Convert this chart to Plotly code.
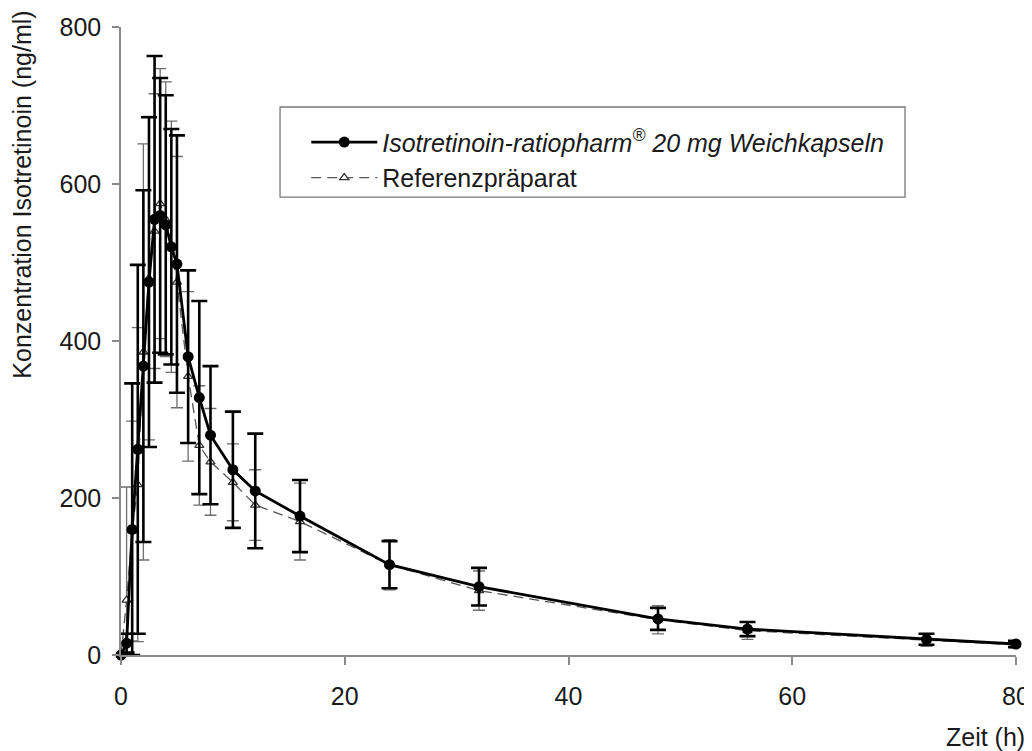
import plotly.graph_objects as go

# ---- data ----
time_h = [0, 0.5, 1, 1.5, 2, 2.5, 3, 3.5, 4, 4.5, 5, 6, 7, 8, 10, 12, 16, 24, 32, 48, 56, 72, 80]
test_mean = [0, 15, 160, 262, 368, 475, 555, 560, 548, 520, 498, 380, 328, 280, 236, 209, 177, 115, 87, 46, 33, 20, 14]
test_sd = [0, 12, 186, 235, 224, 210, 208, 175, 165, 150, 164, 110, 123, 88, 74, 73, 46, 30, 24, 14, 9, 7, 4]
ref_mean = [0, 70, 158, 217, 386, 480, 540, 575, 555, 520, 475, 355, 267, 246, 220, 191, 170, 115, 82, 45, 31, 19, 13]
ref_sd = [0, 144, 140, 200, 265, 206, 175, 172, 175, 160, 160, 108, 76, 68, 49, 45, 49, 32, 25, 18, 11, 8, 4]

test_name = "<i>Isotretinoin-ratiopharm<sup>®</sup> 20 mg Weichkapseln</i>"
ref_name = "Referenzpräparat"
x_ticks = [0, 20, 40, 60, 80]
y_ticks = [0, 200, 400, 600, 800]

# lower error limited so bars stop at the axis
test_minus = [min(s, m) for s, m in zip(test_sd, test_mean)]
ref_minus = [min(s, m) for s, m in zip(ref_sd, ref_mean)]

FONT = "Liberation Sans, Arial, sans-serif"
FS = 25

fig = go.Figure()

fig.add_trace(go.Scatter(
    x=time_h, y=ref_mean, name=ref_name, mode="lines+markers",
    line=dict(color="#555555", width=1.3, dash="10px,6px"),
    marker=dict(symbol="triangle-up", size=8, color="white",
                line=dict(color="#333333", width=1.3)),
    error_y=dict(type="data", array=ref_sd, arrayminus=ref_minus, symmetric=False,
                 color="#6e6e6e", thickness=1.3, width=6),
    cliponaxis=False, legendrank=2,
))

fig.add_trace(go.Scatter(
    x=time_h, y=test_mean, name=test_name, mode="lines+markers",
    line=dict(color="black", width=2.8),
    marker=dict(symbol="circle", size=11, color="black"),
    error_y=dict(type="data", array=test_sd, arrayminus=test_minus, symmetric=False,
                 color="black", thickness=2.6, width=8),
    cliponaxis=False, legendrank=1,
))

axis_common = dict(
    showline=True, linecolor="#8a8a8a", linewidth=1.5,
    ticks="outside", tickcolor="#8a8a8a", tickwidth=1.5,
    showgrid=False, zeroline=False, automargin=False,
    tickfont=dict(family=FONT, size=FS, color="#1a1a1a"),
)

# page body has an 8px margin, so the figure is sized 1024x743
fig.update_layout(
    width=1024, height=743,
    margin=dict(l=113, r=16, t=19, b=96),
    paper_bgcolor="white", plot_bgcolor="white",
    font=dict(family=FONT, size=FS, color="#1a1a1a"),
    xaxis=dict(range=[0, 80], tickvals=x_ticks, ticklen=8,
               ticklabelstandoff=10, **axis_common),
    yaxis=dict(range=[0, 800], tickvals=y_ticks, ticklen=7,
               ticklabelstandoff=6, **axis_common),
    showlegend=True,
    legend=dict(x=0.207, y=0.853, xanchor="left", yanchor="top",
                bgcolor="rgba(0,0,0,0)", borderwidth=0, itemwidth=66,
                font=dict(family=FONT, size=FS, color="#1a1a1a"),
                traceorder="normal"),
    shapes=[dict(type="rect", xref="paper", yref="paper",
                 x0=0.1777, x1=0.876, y0=0.729, y1=0.8726,
                 line=dict(color="#777777", width=1.3), fillcolor="rgba(0,0,0,0)")],
    annotations=[
        dict(text="Konzentration Isotretinoin (ng/ml)", textangle=-90,
             xref="paper", yref="paper", x=-0.111, y=0.7325,
             xanchor="center", yanchor="middle", showarrow=False,
             font=dict(family=FONT, size=FS, color="#1a1a1a")),
        dict(text="Zeit (h)", xref="paper", yref="paper", x=1.012, y=-0.131,
             xanchor="right", yanchor="middle", showarrow=False,
             font=dict(family=FONT, size=FS, color="#1a1a1a")),
    ],
)

fig.write_html("out.html")
